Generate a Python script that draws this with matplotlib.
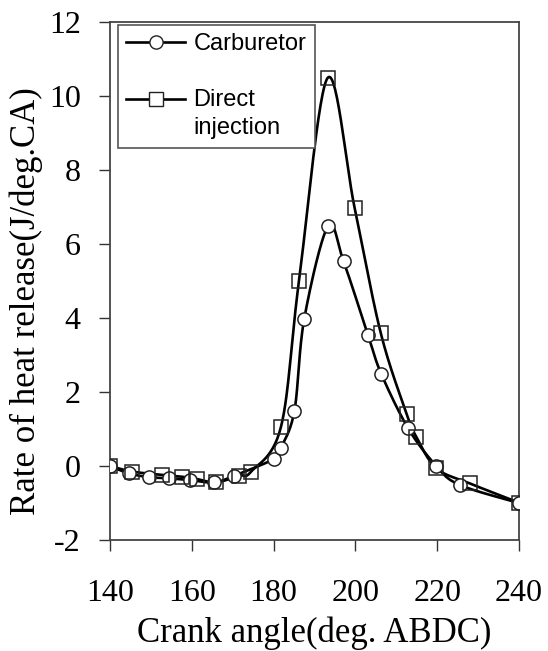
import numpy as np
import matplotlib
matplotlib.use("Agg")
import matplotlib.pyplot as plt
from matplotlib.lines import Line2D
from matplotlib.legend_handler import HandlerLine2D

plt.rcParams["axes.unicode_minus"] = False

# values
carb_angle = [140, 144.7, 149.6, 154.5, 159.5, 165.5, 170.4, 180.2, 181.8, 185.1,
              187.5, 193.3, 197.1, 203.1, 206.3, 212.9, 219.8, 225.5, 240]
carb_rate = [0.0, -0.2, -0.3, -0.33, -0.38, -0.44, -0.26, 0.2, 0.49, 1.5,
             3.99, 6.49, 5.54, 3.54, 2.5, 1.02, 0.0, -0.51, -1.0]

di_angle = [140, 145.5, 152.8, 157.7, 161.2, 165.9, 171.6, 174.5, 181.8, 186.2,
            193.2, 199.8, 206.2, 212.5, 214.9, 219.8, 228, 240]
di_rate = [0.0, -0.15, -0.24, -0.29, -0.35, -0.44, -0.26, -0.15, 1.06, 5.0,
           10.5, 6.99, 3.6, 1.42, 0.79, -0.06, -0.47, -0.99]

xticks = [140, 160, 180, 200, 220, 240]
yticks = [-2, 0, 2, 4, 6, 8, 10, 12]


def smooth(x, y, n=30):
    # excel-like smoothed line (bezier through the points)
    p = np.column_stack([x, y]).astype(float)
    p = np.vstack([p[0], p, p[-1]])
    out = []
    t = np.linspace(0, 1, n)[:, None]
    for i in range(1, len(p) - 2):
        p0, p3 = p[i], p[i + 1]
        c1 = p0 + (p[i + 1] - p[i - 1]) / 6
        c2 = p3 - (p[i + 2] - p[i]) / 6
        seg = ((1 - t) ** 3) * p0 + 3 * ((1 - t) ** 2) * t * c1 + 3 * (1 - t) * t ** 2 * c2 + t ** 3 * p3
        out.append(seg)
    out = np.vstack(out)
    return out[:, 0], out[:, 1]


class FirstLineHandler(HandlerLine2D):
    # put the legend handle level with the first line of a two-line label
    def create_artists(self, legend, orig_handle, xdescent, ydescent, width, height, fontsize, trans):
        return super().create_artists(legend, orig_handle, xdescent, ydescent - 1.36 * fontsize,
                                      width, height, fontsize, trans)


fig = plt.figure(figsize=(5.48, 6.51), dpi=100)
ax = fig.add_axes([110 / 548, 1 - 540 / 651, 409 / 548, 517.5 / 651])

serif = "Liberation Serif"
sans = "Liberation Sans"

sx, sy = smooth(carb_angle, carb_rate)
ax.plot(sx, sy, color="black", lw=1.9, zorder=3)
ax.plot(carb_angle, carb_rate, ls="none", marker="o", ms=9.5, mfc="white",
        mec="#222222", mew=1.1, zorder=4)

sx, sy = smooth(di_angle, di_rate)
ax.plot(sx, sy, color="black", lw=1.9, zorder=3)
ax.plot(di_angle, di_rate, ls="none", marker="s", ms=10, mfc="none",
        mec="#222222", mew=1.1, zorder=5)

ax.set_xlim(140, 240)
ax.set_ylim(-2, 12)
ax.set_xticks(xticks)
ax.set_yticks(yticks)
ax.tick_params(direction="out", length=8, width=1, color="#333333")
ax.tick_params(axis="x", pad=20)
ax.tick_params(axis="y", pad=13)
for lab in ax.get_xticklabels() + ax.get_yticklabels():
    lab.set_fontfamily(serif)
    lab.set_fontsize(23)
for s in ax.spines.values():
    s.set_color("#444444")
    s.set_linewidth(1.3)

ax.set_xlabel("Crank angle(deg. ABDC)", fontfamily=serif, fontsize=25, labelpad=6)
ax.set_ylabel("Rate of heat release(J/deg.CA)", fontfamily=serif, fontsize=25)
ax.yaxis.set_label_coords(-0.165, 0.462)

handles = [
    Line2D([], [], color="black", lw=1.9, marker="o", ms=9.5, mfc="white", mec="#222222"),
    Line2D([], [], color="black", lw=1.9, marker="s", ms=10, mfc="white", mec="#222222"),
]
leg = ax.legend(handles, ["Carburetor", "Direct\ninjection"], loc="upper left",
                bbox_to_anchor=(0.0196, 0.9952), prop={"family": sans, "size": 17},
                frameon=True, fancybox=False, framealpha=1, edgecolor="#555555",
                handlelength=2.5, handletextpad=0.35, labelspacing=1.45,
                borderpad=0.35, borderaxespad=0,
                handler_map={handles[1]: FirstLineHandler()})
leg.get_frame().set_linewidth(1.2)
leg.get_texts()[1].set_linespacing(1.35)

fig.savefig("out.png", dpi=100)
